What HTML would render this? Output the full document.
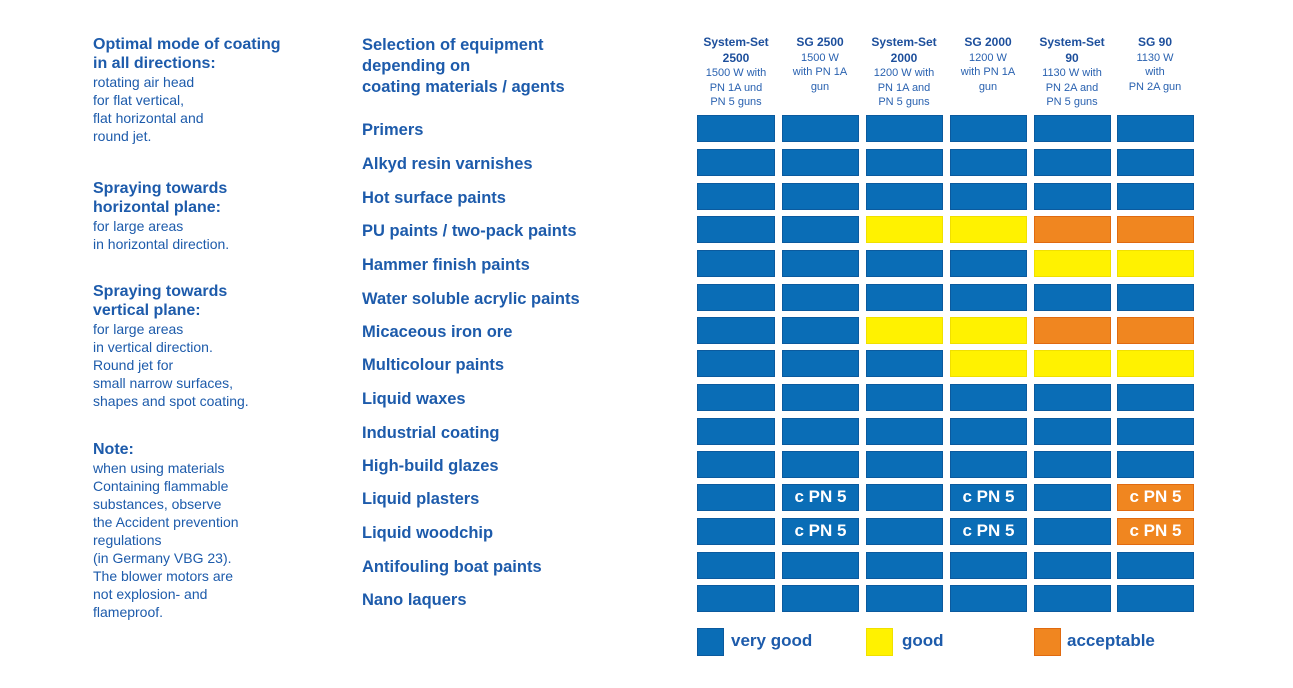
<!DOCTYPE html>
<html><head><meta charset="utf-8"><style>
body{margin:0;width:1293px;height:688px;background:#fff;position:relative;overflow:hidden;font-family:"Liberation Sans",sans-serif;color:#1d5bab}
.a{position:absolute}
.l{position:absolute;left:93px;font-size:14px;line-height:18px}
.l b{font-size:16px;line-height:19px;display:block}
.r{position:absolute;left:362px;font-size:16.5px;font-weight:bold;white-space:nowrap}
.h{position:absolute;top:35px;width:90px;text-align:center;font-size:11px;line-height:14.5px;color:#2a62b0}
.h b{font-size:12px;color:#1d4f9c}
.c{position:absolute;width:76px;height:26px;box-sizing:border-box;border:1px solid #0b5a9e;background:#0a6db6;color:#fff;font-weight:bold;font-size:17px;text-align:center;line-height:24px}
.Y{background:#fff200;border-color:#f0e000}.O{background:#f08620;border-color:#e06a10}
</style></head><body>
<div class="l" style="top:35px"><b>Optimal mode of coating<br>in all directions:</b>rotating air head<br>for flat vertical,<br>flat horizontal and<br>round jet.</div>
<div class="l" style="top:179px"><b>Spraying towards<br>horizontal plane:</b>for large areas<br>in horizontal direction.</div>
<div class="l" style="top:282px"><b>Spraying towards<br>vertical plane:</b>for large areas<br>in vertical direction.<br>Round jet for<br>small narrow surfaces,<br>shapes and spot coating.</div>
<div class="l" style="top:440px"><b>Note:</b>when using materials<br>Containing flammable<br>substances, observe<br>the Accident prevention<br>regulations<br>(in Germany VBG 23).<br>The blower motors are<br>not explosion- and<br>flameproof.</div>
<div class="r" style="top:35px;line-height:21px">Selection of equipment<br>depending on<br>coating materials / agents</div>
<div class="h" style="left:691px"><b>System-Set<br>2500</b><br>1500 W with<br>PN 1A und<br>PN 5 guns</div>
<div class="h" style="left:775px"><b>SG 2500</b><br>1500 W<br>with PN 1A<br>gun</div>
<div class="h" style="left:859px"><b>System-Set<br>2000</b><br>1200 W with<br>PN 1A and<br>PN 5 guns</div>
<div class="h" style="left:943px"><b>SG 2000</b><br>1200 W<br>with PN 1A<br>gun</div>
<div class="h" style="left:1027px"><b>System-Set<br>90</b><br>1130 W with<br>PN 2A and<br>PN 5 guns</div>
<div class="h" style="left:1110px"><b>SG 90</b><br>1130 W<br>with<br>PN 2A gun</div>
<div id="g"></div>
<div class="c a" style="left:697px;top:628px;width:27px;height:28px"></div><div class="a" style="left:731px;top:631px;font-size:17px;font-weight:bold">very good</div>
<div class="c Y a" style="left:866px;top:628px;width:27px;height:28px"></div><div class="a" style="left:902px;top:631px;font-size:17px;font-weight:bold">good</div>
<div class="c O a" style="left:1034px;top:628px;width:27px;height:28px"></div><div class="a" style="left:1067px;top:631px;font-size:17px;font-weight:bold">acceptable</div>
<script>
var names=["Primers","Alkyd resin varnishes","Hot surface paints","PU paints / two-pack paints","Hammer finish paints","Water soluble acrylic paints","Micaceous iron ore","Multicolour paints","Liquid waxes","Industrial coating","High-build glazes","Liquid plasters","Liquid woodchip","Antifouling boat paints","Nano laquers"];
var tops=[115,149,183,216,250,284,317,350,384,418,451,484,518,552,585];
var m=["BBBBBB","BBBBBB","BBBBBB","BBYYOO","BBBBYY","BBBBBB","BBYYOO","BBBYYY","BBBBBB","BBBBBB","BBBBBB","BPBPBQ","BPBPBQ","BBBBBB","BBBBBB"];
var xs=[697,782,866,950,1034,1117];var h="";
for(var i=0;i<15;i++){h+='<div class="r" style="top:'+(tops[i]+6)+'px">'+names[i]+'</div>';
for(var j=0;j<6;j++){var k=m[i][j];var cls=k=="Y"?" Y":(k=="O"||k=="Q")?" O":"";var t=(k=="P"||k=="Q")?"c PN 5":"";
h+='<div class="c'+cls+'" style="left:'+xs[j]+'px;top:'+tops[i]+'px;width:'+(j==0?78:77)+'px;height:27px">'+t+'</div>';}}
document.getElementById("g").innerHTML=h;
</script>
</body></html>
